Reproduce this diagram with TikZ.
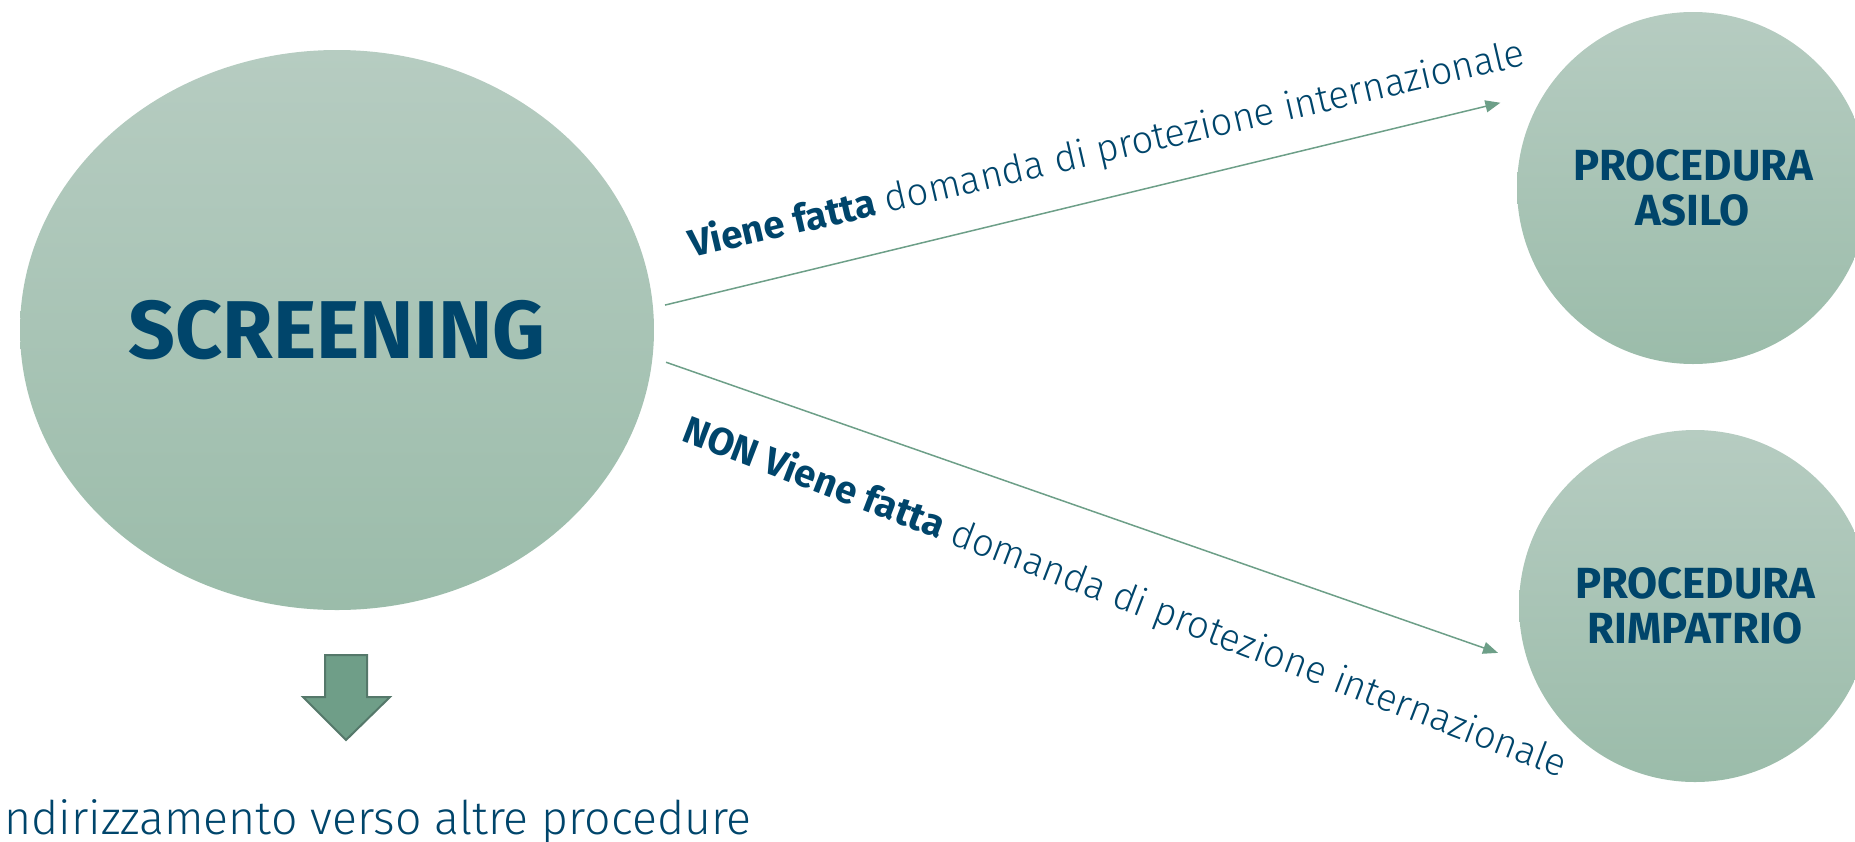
\documentclass[tikz,border=0pt]{standalone}
\usepackage{fontspec}
\setmainfont{Fira Sans}
\newfontfamily\lightfont{Fira Sans Light}
\usetikzlibrary{shapes.geometric,arrows.meta}

\definecolor{navy}{RGB}{0,69,107}
\definecolor{sagetop}{RGB}{182,204,193}
\definecolor{sagebot}{RGB}{155,188,170}
\definecolor{linkgreen}{RGB}{109,159,136}
\definecolor{arrowfill}{RGB}{111,158,136}
\definecolor{arrowline}{RGB}{85,120,106}

\begin{document}
\begin{tikzpicture}[x=0.5pt,y=-0.5pt,
	bubble/.style={top color=sagetop,bottom color=sagebot,draw=none,text=navy,align=center},
	link/.style={draw=linkgreen,line width=0.75pt,-{Triangle[length=7.5pt,width=6pt]}},
	linktext/.style={text=navy,inner sep=0pt,font=\fontsize{19.2}{21}\selectfont}]

	\useasboundingbox (0,0) rectangle (1855,841);

	\node[bubble,ellipse,minimum width=317pt,minimum height=280pt,
		font=\fontsize{41}{43}\selectfont\bfseries] (screening) at (337,330) {SCREENING};
	\node[bubble,circle,minimum size=176pt,
		font=\fontsize{21.8}{22.5}\selectfont\bfseries] (asilo) at (1693,188) {PROCEDURA\\ASILO};
	\node[bubble,circle,minimum size=176pt,
		font=\fontsize{21.8}{22.5}\selectfont\bfseries] (rimpatrio) at (1695,606) {PROCEDURA\\RIMPATRIO};

	\draw[link,shorten <=6pt,shorten >=23pt] (screening.4.5) -- (asilo.147);
	\draw[link,shorten <=7pt,shorten >=16pt] (screening.-5.5) -- (rimpatrio.199.4);

	\node[linktext,anchor=base west,rotate=13] (yes) at (692,258)
		{\textbf{Viene fatta} \lightfont domanda di protezione internazionale};
	\node[linktext,anchor=base west,rotate=-21] (no) at (680,440)
		{\textbf{NON Viene fatta} \lightfont domanda di protezione internazionale};

	% freccia verso il basso
	\coordinate (down) at (346,655);
	\filldraw[fill=arrowfill,draw=arrowline,line width=1pt]
		(down) ++(-21,0) -- ++(42,0) -- ++(0,42) -- ++(23,0) -- ++(-44,43)
		-- ++(-43,-43) -- ++(22,0) -- cycle;

	\node[text=navy,anchor=base west,inner sep=0pt,font=\lightfont\fontsize{23.2}{25}\selectfont]
		(other) at (4,834) {ndirizzamento verso altre procedure};

\end{tikzpicture}
\end{document}
